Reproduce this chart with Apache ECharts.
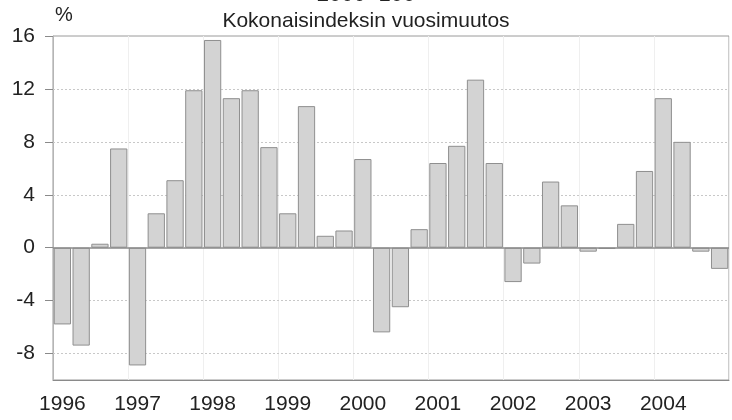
<!DOCTYPE html>
<html>
<head>
<meta charset="utf-8">
<script src="https://cdn.jsdelivr.net/npm/echarts@6/dist/echarts.min.js"></script>
<style>
  html, body { margin: 0; padding: 0; background: #fff; }
  #chart { width: 732px; height: 420px; }
</style>
</head>
<body>
<div id="chart"></div>
<script>
const years = ['1996', '1997', '1998', '1999', '2000', '2001', '2002', '2003', '2004']
const quarters = ['Q1', 'Q2', 'Q3', 'Q4']
// vuosimuutos %, neljännesvuosittain
const values = [
  -5.8, -7.4, 0.3, 7.5,
  -8.9, 2.6, 5.1, 11.9,
  15.7, 11.3, 11.9, 7.6,
  2.6, 10.7, 0.9, 1.3,
  6.7, -6.4, -4.5, 1.4,
  6.4, 7.7, 12.7, 6.4,
  -2.6, -1.2, 5.0, 3.2,
  -0.3, -0.1, 1.8, 5.8,
  11.3, 8.0, -0.3, -1.6
]
const yTicks = [-8, -4, 0, 4, 8, 12, 16]
const gridValues = [-8, -4, 4, 8, 12]

const categories = []
years.forEach(function (y) {
  quarters.forEach(function (q) {
    categories.push(y + ' ' + q)
  })
})

const font = "'Liberation Sans Narrow', 'Arial Narrow', 'Liberation Sans', Arial, sans-serif"
const chart = echarts.init(document.getElementById('chart'))

const option = {
  animation: false,
  textStyle: { fontFamily: font },
  title: {
    text: 'Kokonaisindeksin vuosimuutos',
    left: 'center',
    top: 6,
    textStyle: { fontSize: 21, fontWeight: 'normal', color: '#222', fontFamily: font },
  },
  graphic: [
    {
      type: 'text',
      left: 'center',
      top: -16,
      style: { text: '2000=100', font: '22px ' + font, fill: '#222' },
    },
  ],
  grid: {
    left: 53,
    right: 3,
    top: 36,
    bottom: 40,
    show: true,
    borderColor: '#9a9a9a',
    borderWidth: 1,
  },
  xAxis: {
    type: 'category',
    data: categories,
    boundaryGap: true,
    axisLine: { onZero: false, lineStyle: { color: '#8a8a8a', width: 1 } },
    axisTick: {
      alignWithLabel: true,
      interval: 3,
      length: 9,
      lineStyle: { color: '#8a8a8a' },
    },
    axisLabel: {
      interval: 3,
      margin: 14,
      fontSize: 21,
      color: '#222',
      fontFamily: font,
      formatter: function (v) {
        return v.slice(0, 4)
      },
    },
    splitLine: {
      show: true,
      interval: 3,
      lineStyle: { color: '#efefef', width: 1 },
    },
  },
  yAxis: {
    type: 'value',
    min: -10,
    max: 16,
    name: '%',
    nameLocation: 'end',
    nameGap: 11,
    nameTextStyle: { fontSize: 20, color: '#222', align: 'left', padding: [0, 0, 0, 2], fontFamily: font },
    axisLine: { show: true, lineStyle: { color: '#b5b5b5' } },
    axisTick: {
      show: true,
      length: 8,
      customValues: yTicks,
      lineStyle: { color: '#8a8a8a' },
    },
    axisLabel: {
      customValues: yTicks,
      margin: 18,
      fontSize: 21,
      color: '#222',
      fontFamily: font,
    },
    splitLine: { show: false },
  },
  series: [
    {
      type: 'bar',
      data: values,
      barCategoryGap: '8%',
      itemStyle: {
        color: '#d3d3d3',
        borderColor: '#8f8f8f',
        borderWidth: 1,
      },
      markLine: {
        silent: true,
        symbol: 'none',
        z: 1,
        label: { show: false },
        lineStyle: { color: '#c8c8c8', type: [2, 2], width: 1 },
        data: gridValues.map(function (v) {
          return { yAxis: v }
        }),
      },
    },
    {
      type: 'line',
      data: [],
      markLine: {
        silent: true,
        symbol: 'none',
        z: 3,
        label: { show: false },
        lineStyle: { color: '#8a8a8a', type: 'solid', width: 1.5 },
        data: [{ yAxis: 0 }],
      },
    },
  ],
}

chart.setOption(option)
</script>
</body>
</html>
